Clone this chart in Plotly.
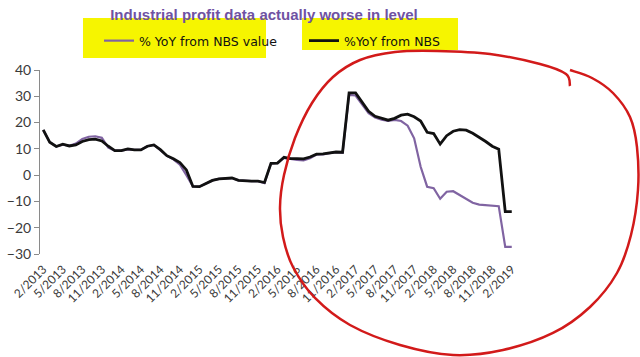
import plotly.graph_objects as go

# ---------------- data ----------------
months = [f"{m}/{y}" for y in range(2013, 2020) for m in range(1, 13)]
months = months[1:74]  # 2/2013 .. 2/2019 (73 months)

nbs_yoy = [17.2, 12.5, 10.9, 11.8, 11.1, 11.5, 12.8, 13.5, 13.7, 13.0, 11.0,
           9.3, 9.3, 10.0, 9.6, 9.6, 11.0, 11.5, 9.7, 7.4, 6.2, 4.8, 2.0,
           -4.3, -4.4, -3.3, -2.0, -1.4, -1.2, -1.1, -2.0, -2.2, -2.3, -2.3, -2.8,
           4.5, 4.6, 6.8, 6.3, 6.3, 6.2, 6.9, 8.0, 8.1, 8.5, 8.8, 8.7,
           31.3, 31.3, 27.9, 24.3, 22.4, 21.6, 20.9, 21.6, 22.8, 23.2, 22.2, 20.6,
           16.3, 15.8, 11.8, 15.0, 16.7, 17.3, 17.1, 15.9, 14.4, 12.8, 11.0, 9.9,
           -13.9, -13.9]

value_yoy = [17.2, 12.5, 10.9, 11.6, 11.2, 12.0, 13.8, 14.6, 14.8, 14.2, 10.5,
             9.3, 9.3, 9.8, 9.6, 9.6, 11.0, 11.5, 9.5, 7.3, 6.0, 4.0, 0.0,
             -4.3, -4.4, -3.3, -2.0, -1.4, -1.2, -1.1, -2.0, -2.2, -2.3, -2.3, -3.0,
             4.5, 4.6, 6.6, 6.1, 5.8, 5.6, 6.4, 7.8, 7.9, 8.4, 8.7, 8.5,
             30.5, 30.3, 27.0, 23.6, 21.9, 21.1, 20.6, 21.0, 20.6, 18.8, 14.0, 3.2,
             -4.4, -5.0, -9.0, -6.3, -6.1, -7.5, -9.2, -10.5, -11.2, -11.4, -11.4, -11.8,
             -27.3, -27.3]

series_names = ["% YoY from NBS value", "%YoY from NBS"]
title_text = "Industrial profit data actually worse in level"
y_ticks = [-30, -20, -10, 0, 10, 20, 30, 40]

# ---------------- layout helpers ----------------
W, H = 640, 357
L, R, T, B = 40, 125, 70, 103
PW, PH = W - L - R, H - T - B
idx = list(range(len(months)))
label_idx = idx[::3]
label_txt = [months[i] for i in label_idx]
boundary_ticks = [i - 0.5 for i in idx[::3]]


def px2paper(px, py):
    return (px - L) / PW, (H - B - py) / PH


def smooth_path(pts):
    p = [px2paper(*q) for q in pts]
    d = f"M {p[0][0]:.4f},{p[0][1]:.4f}"
    n = len(p)
    for i in range(n - 1):
        p0 = p[i - 1] if i > 0 else p[i]
        p1, p2 = p[i], p[i + 1]
        p3 = p[i + 2] if i + 2 < n else p[i + 1]
        c1 = (p1[0] + (p2[0] - p0[0]) / 6, p1[1] + (p2[1] - p0[1]) / 6)
        c2 = (p2[0] - (p3[0] - p1[0]) / 6, p2[1] - (p3[1] - p1[1]) / 6)
        d += f" C {c1[0]:.4f},{c1[1]:.4f} {c2[0]:.4f},{c2[1]:.4f} {p2[0]:.4f},{p2[1]:.4f}"
    return d


def rect_path(x0, y0, x1, y1):
    a = px2paper(x0, y0)
    b = px2paper(x1, y1)
    return f"M {a[0]:.4f},{a[1]:.4f} L {b[0]:.4f},{a[1]:.4f} L {b[0]:.4f},{b[1]:.4f} L {a[0]:.4f},{b[1]:.4f} Z"


fig = go.Figure()
fig.add_trace(go.Scatter(x=idx, y=value_yoy, mode="lines", name=series_names[0],
                         line=dict(color="#8064A2", width=2.2)))
fig.add_trace(go.Scatter(x=idx, y=nbs_yoy, mode="lines", name=series_names[1],
                         line=dict(color="#111111", width=2.8)))

axis_font = dict(family="Lato, Liberation Sans, sans-serif", size=12, color="#3a3a3a")

# yellow marker highlights
yellow = "#F6F500"
shapes = [
    dict(type="path", xref="paper", yref="paper", layer="below",
         path=rect_path(83, 18, 266, 58), fillcolor=yellow, line=dict(width=0)),
    dict(type="path", xref="paper", yref="paper", layer="below",
         path=rect_path(302, 18, 458, 50), fillcolor=yellow, line=dict(width=0)),
]

# hand-drawn red loop
loop_pts = [(570, 86), (566, 74), (540, 64), (490, 54), (437, 51), (395, 52),
            (360, 60), (333, 77), (312, 103), (295, 138), (284, 175), (280, 207),
            (283, 237), (293, 267), (315, 298), (350, 325), (400, 345), (453, 355),
            (503, 350), (553, 333), (590, 307), (617, 273), (631, 235), (638, 190),
            (637, 147), (630, 117), (613, 93), (592, 78), (570, 70)]
shapes.append(dict(type="path", xref="paper", yref="paper", layer="above",
                   path=smooth_path(loop_pts), line=dict(color="#D21A1A", width=2.5)))

fig.update_layout(
    width=W, height=H, autosize=False,
    margin=dict(l=L, r=R, t=T, b=B, pad=0, autoexpand=False),
    paper_bgcolor="white", plot_bgcolor="white",
    title=dict(text=f"<b>{title_text}</b>", x=(264 - L) / PW, xref="paper",
               xanchor="center", y=1 - 15 / H, yanchor="middle",
               font=dict(family="Liberation Sans, Arial, sans-serif", size=15, color="#6F52A3")),
    legend=dict(orientation="h", x=(99 - L) / PW, xanchor="left",
                y=(H - B - 41) / PH, yanchor="middle",
                bgcolor="rgba(0,0,0,0)", entrywidth=160, entrywidthmode="pixels",
                font=dict(family="DejaVu Sans, sans-serif", size=12.5, color="#111111")),
    xaxis=dict(range=[-0.5, len(months) - 0.5], tickmode="array", tickvals=label_idx,
               ticktext=label_txt, tickangle=-45, ticks="", showline=False,
               showgrid=False, zeroline=False, tickfont=axis_font, automargin=False,
               ticklabelstandoff=5),
    xaxis2=dict(range=[-0.5, len(months) - 0.5], overlaying="x", anchor="free",
                position=30 / 70, matches="x", tickmode="array", tickvals=boundary_ticks,
                showticklabels=False, ticks="outside", ticklen=5, tickcolor="#8a8a8a",
                showline=True, linecolor="#8a8a8a", linewidth=1, showgrid=False,
                zeroline=False, layer="below traces"),
    yaxis=dict(range=[-30, 40], tickmode="array", tickvals=y_ticks, ticks="outside",
               ticklen=5, tickcolor="#8a8a8a", showline=True, linecolor="#8a8a8a",
               linewidth=1, showgrid=False, zeroline=False, automargin=False,
               tickfont=dict(family="Lato, Liberation Sans, sans-serif", size=14, color="#3a3a3a")),
    shapes=shapes,
)

fig.write_html("out.html", config={"displayModeBar": False},
               post_script="document.body.style.margin='0px';")
